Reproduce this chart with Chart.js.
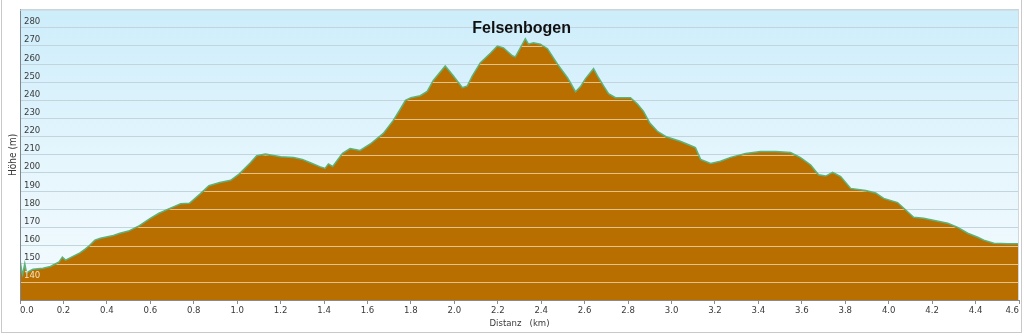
<!DOCTYPE html>
<html>
<head>
<meta charset="utf-8">
<script src="https://cdn.jsdelivr.net/npm/chart.js@4/dist/chart.umd.min.js"></script>
<style>
  html, body { margin: 0; padding: 0; background: #ffffff; overflow: hidden; }
  #wrap { width: 1023px; height: 336px; position: relative; }
</style>
</head>
<body>
<div id="wrap"><canvas id="profile" width="1023" height="336"></canvas></div>
<script>
// Elevation profile along the trail (distance in km, altitude in m)
const distanceKm = [
  0.000, 0.008, 0.012, 0.022, 0.030, 0.045, 0.060, 0.106, 0.140, 0.160,
  0.180, 0.195, 0.210, 0.235, 0.276, 0.300, 0.320, 0.345, 0.370, 0.430,
  0.460, 0.500, 0.550, 0.600, 0.640, 0.690, 0.740, 0.780, 0.830, 0.870,
  0.920, 0.970, 1.010, 1.060, 1.090, 1.130, 1.200, 1.260, 1.300, 1.340,
  1.380, 1.405, 1.420, 1.440, 1.485, 1.520, 1.566, 1.613, 1.673, 1.719,
  1.750, 1.775, 1.800, 1.843, 1.875, 1.903, 1.958, 1.995, 2.037, 2.060,
  2.083, 2.120, 2.166, 2.198, 2.226, 2.267, 2.281, 2.295, 2.327, 2.341,
  2.364, 2.396, 2.429, 2.475, 2.521, 2.558, 2.581, 2.604, 2.641, 2.664,
  2.687, 2.710, 2.742, 2.811, 2.843, 2.871, 2.900, 2.935, 2.975, 3.040,
  3.090, 3.110, 3.134, 3.180, 3.225, 3.272, 3.341, 3.410, 3.479, 3.548,
  3.594, 3.641, 3.677, 3.710, 3.742, 3.779, 3.825, 3.894, 3.940, 3.977,
  4.041, 4.115, 4.161, 4.272, 4.318, 4.364, 4.410, 4.438, 4.484, 4.550,
  4.600
];
const elevationM = [
  152.0, 146.0, 144.0, 150.0, 145.0, 146.0, 147.0, 147.5, 148.5, 149.7,
  151.0, 153.6, 152.0, 153.5, 156.0, 158.0, 160.0, 163.0, 164.0, 165.6,
  166.8, 168.0, 171.0, 175.0, 177.8, 180.5, 183.0, 183.3, 188.5, 193.0,
  194.8, 196.0, 199.5, 205.5, 209.5, 210.5, 209.0, 208.5, 207.5, 205.5,
  203.5, 202.5, 205.0, 203.6, 210.8, 213.5, 212.4, 216.0, 221.8, 229.0,
  235.0, 240.0, 241.5, 242.6, 245.0, 251.0, 259.0, 253.6, 247.0, 248.0,
  253.6, 260.8, 266.0, 270.0, 269.0, 264.6, 264.0, 267.0, 274.0, 271.0,
  271.8, 271.0, 268.5, 260.0, 252.5, 244.8, 247.6, 252.0, 257.5, 252.5,
  248.0, 243.7, 241.5, 241.5, 238.0, 234.0, 227.5, 223.0, 220.0, 217.5,
  215.0, 214.0, 207.5, 205.3, 206.5, 208.6, 210.8, 211.9, 211.9, 211.3,
  208.5, 204.4, 199.0, 198.3, 200.3, 198.0, 191.5, 190.4, 189.0, 186.0,
  183.7, 175.6, 175.0, 172.3, 170.0, 166.8, 164.6, 163.0, 161.3, 161.0,
  161.0
];

// Axis ticks
const xTickValues = [0, 0.2, 0.4, 0.6, 0.8, 1.0, 1.2, 1.4, 1.6, 1.8, 2.0, 2.2,
                     2.4, 2.6, 2.8, 3.0, 3.2, 3.4, 3.6, 3.8, 4.0, 4.2, 4.4, 4.6];
const yTickValues = [130, 140, 150, 160, 170, 180, 190, 200, 210, 220, 230,
                     240, 250, 260, 270, 280, 290];
const yLabelledValues = [140, 150, 160, 170, 180, 190, 200, 210, 220, 230,
                         240, 250, 260, 270, 280];

const chartTitle = 'Felsenbogen';
const xAxisTitle = 'Distanz   (km)';
const yAxisTitle = 'Höhe (m)';

const TICK_FONT = { family: "'DejaVu Sans Condensed', 'DejaVu Sans', sans-serif", size: 9.5 };

// Lowest ground level under the y labels (first 100 m of the trail)
const groundNearStart = Math.min(...elevationM.filter((_, i) => distanceKm[i] <= 0.1));

// Sky gradient behind the plot plus the outer frame
const skyBackground = {
  id: 'skyBackground',
  beforeDraw(chart) {
    const { ctx, chartArea: a, width, height } = chart;
    ctx.save();
    ctx.fillStyle = '#ffffff';
    ctx.fillRect(0, 0, width, height);
    ctx.strokeStyle = '#c9c9c9';
    ctx.lineWidth = 1;
    ctx.strokeRect(1.5, -2, width - 3, height - 1.5);
    const g = ctx.createLinearGradient(0, a.top, 0, a.bottom);
    g.addColorStop(0, '#cdedfb');
    g.addColorStop(0.55, '#e6f6fd');
    g.addColorStop(1, '#f4fbfe');
    ctx.fillStyle = g;
    ctx.fillRect(a.left, a.top, a.right - a.left, a.bottom - a.top);
    ctx.restore();
  }
};

// Light grid lines where they cross the terrain fill
const terrainGrid = {
  id: 'terrainGrid',
  afterDatasetsDraw(chart) {
    const { ctx, chartArea: a, scales } = chart;
    const pts = chart.getDatasetMeta(0).data;
    if (!pts.length) return;
    ctx.save();
    ctx.beginPath();
    ctx.moveTo(pts[0].x, a.bottom);
    pts.forEach(p => ctx.lineTo(p.x, p.y + 1.2));
    ctx.lineTo(pts[pts.length - 1].x, a.bottom);
    ctx.closePath();
    ctx.clip();
    ctx.strokeStyle = '#e3c28c';
    ctx.lineWidth = 1;
    yTickValues.forEach(v => {
      const y = Math.round(scales.y.getPixelForValue(v)) + 0.5;
      ctx.beginPath();
      ctx.moveTo(a.left + 1, y);
      ctx.lineTo(a.right, y);
      ctx.stroke();
    });
    ctx.restore();
  }
};

// Plot frame and the name of the landmark
const frameAndTitle = {
  id: 'frameAndTitle',
  afterDraw(chart) {
    const { ctx, chartArea: a } = chart;
    ctx.save();
    ctx.strokeStyle = '#cfd8dc';
    ctx.lineWidth = 1;
    ctx.beginPath();
    ctx.moveTo(a.left, a.top + 0.5);
    ctx.lineTo(a.right - 0.5, a.top + 0.5);
    ctx.lineTo(a.right - 0.5, a.bottom);
    ctx.stroke();
    ctx.fillStyle = '#111111';
    ctx.font = "bold 16px 'Liberation Sans', Arial, sans-serif";
    ctx.textAlign = 'center';
    ctx.textBaseline = 'alphabetic';
    ctx.fillText(chartTitle, chart.scales.x.getPixelForValue(2.31), 33);
    ctx.restore();
  }
};

new Chart(document.getElementById('profile'), {
  type: 'line',
  data: {
    datasets: [{
      data: distanceKm.map((d, i) => ({ x: d, y: elevationM[i] })),
      borderColor: '#5cb47a',
      borderWidth: 1.5,
      backgroundColor: '#b96f00',
      fill: 'start',
      pointRadius: 0,
      tension: 0
    }]
  },
  options: {
    responsive: false,
    animation: false,
    devicePixelRatio: 1,
    layout: { padding: { left: 0, right: 4, top: 8, bottom: 0 } },
    plugins: {
      legend: { display: false },
      tooltip: { enabled: false }
    },
    scales: {
      x: {
        type: 'linear',
        min: 0,
        max: 4.6,
        afterBuildTicks: s => { s.ticks = xTickValues.map(v => ({ value: v })); },
        afterFit: s => { s.height = 36; },
        ticks: {
          font: TICK_FONT,
          color: '#3a3a3a',
          padding: 1,
          align: 'inner',
          maxRotation: 0,
          autoSkip: false,
          callback: v => Number(v).toFixed(1)
        },
        grid: {
          drawOnChartArea: false,
          drawTicks: true,
          tickLength: 4,
          color: '#8c8c8c'
        },
        border: { display: true, color: '#8a8a8a', width: 1, z: 1 },
        title: {
          display: true,
          text: xAxisTitle,
          color: '#3a3a3a',
          font: { family: TICK_FONT.family, size: 9.5 },
          padding: { top: 0, bottom: 7 }
        }
      },
      y: {
        type: 'linear',
        min: 130,
        max: 290,
        afterBuildTicks: s => { s.ticks = yTickValues.map(v => ({ value: v })); },
        afterFit: s => { s.width = 20; },
        ticks: {
          z: 1,
          font: TICK_FONT,
          // labels that sit on the terrain fill are drawn light
          color: c => (c.tick && c.tick.value + 3 < groundNearStart) ? '#f3e2c0' : '#3a3a3a',
          mirror: true,
          padding: 4,
          labelOffset: -6,
          autoSkip: false,
          callback: v => yLabelledValues.includes(v) ? String(v) : ''
        },
        grid: {
          drawTicks: false,
          color: '#c2d5dd',
          lineWidth: 1
        },
        border: { display: true, color: '#80878c', width: 1, z: 1 },
        title: {
          display: true,
          text: yAxisTitle,
          color: '#3a3a3a',
          font: { family: TICK_FONT.family, size: 10 },
          padding: { top: 7, bottom: 0 }
        }
      }
    }
  },
  plugins: [skyBackground, terrainGrid, frameAndTitle]
});
</script>
</body>
</html>
